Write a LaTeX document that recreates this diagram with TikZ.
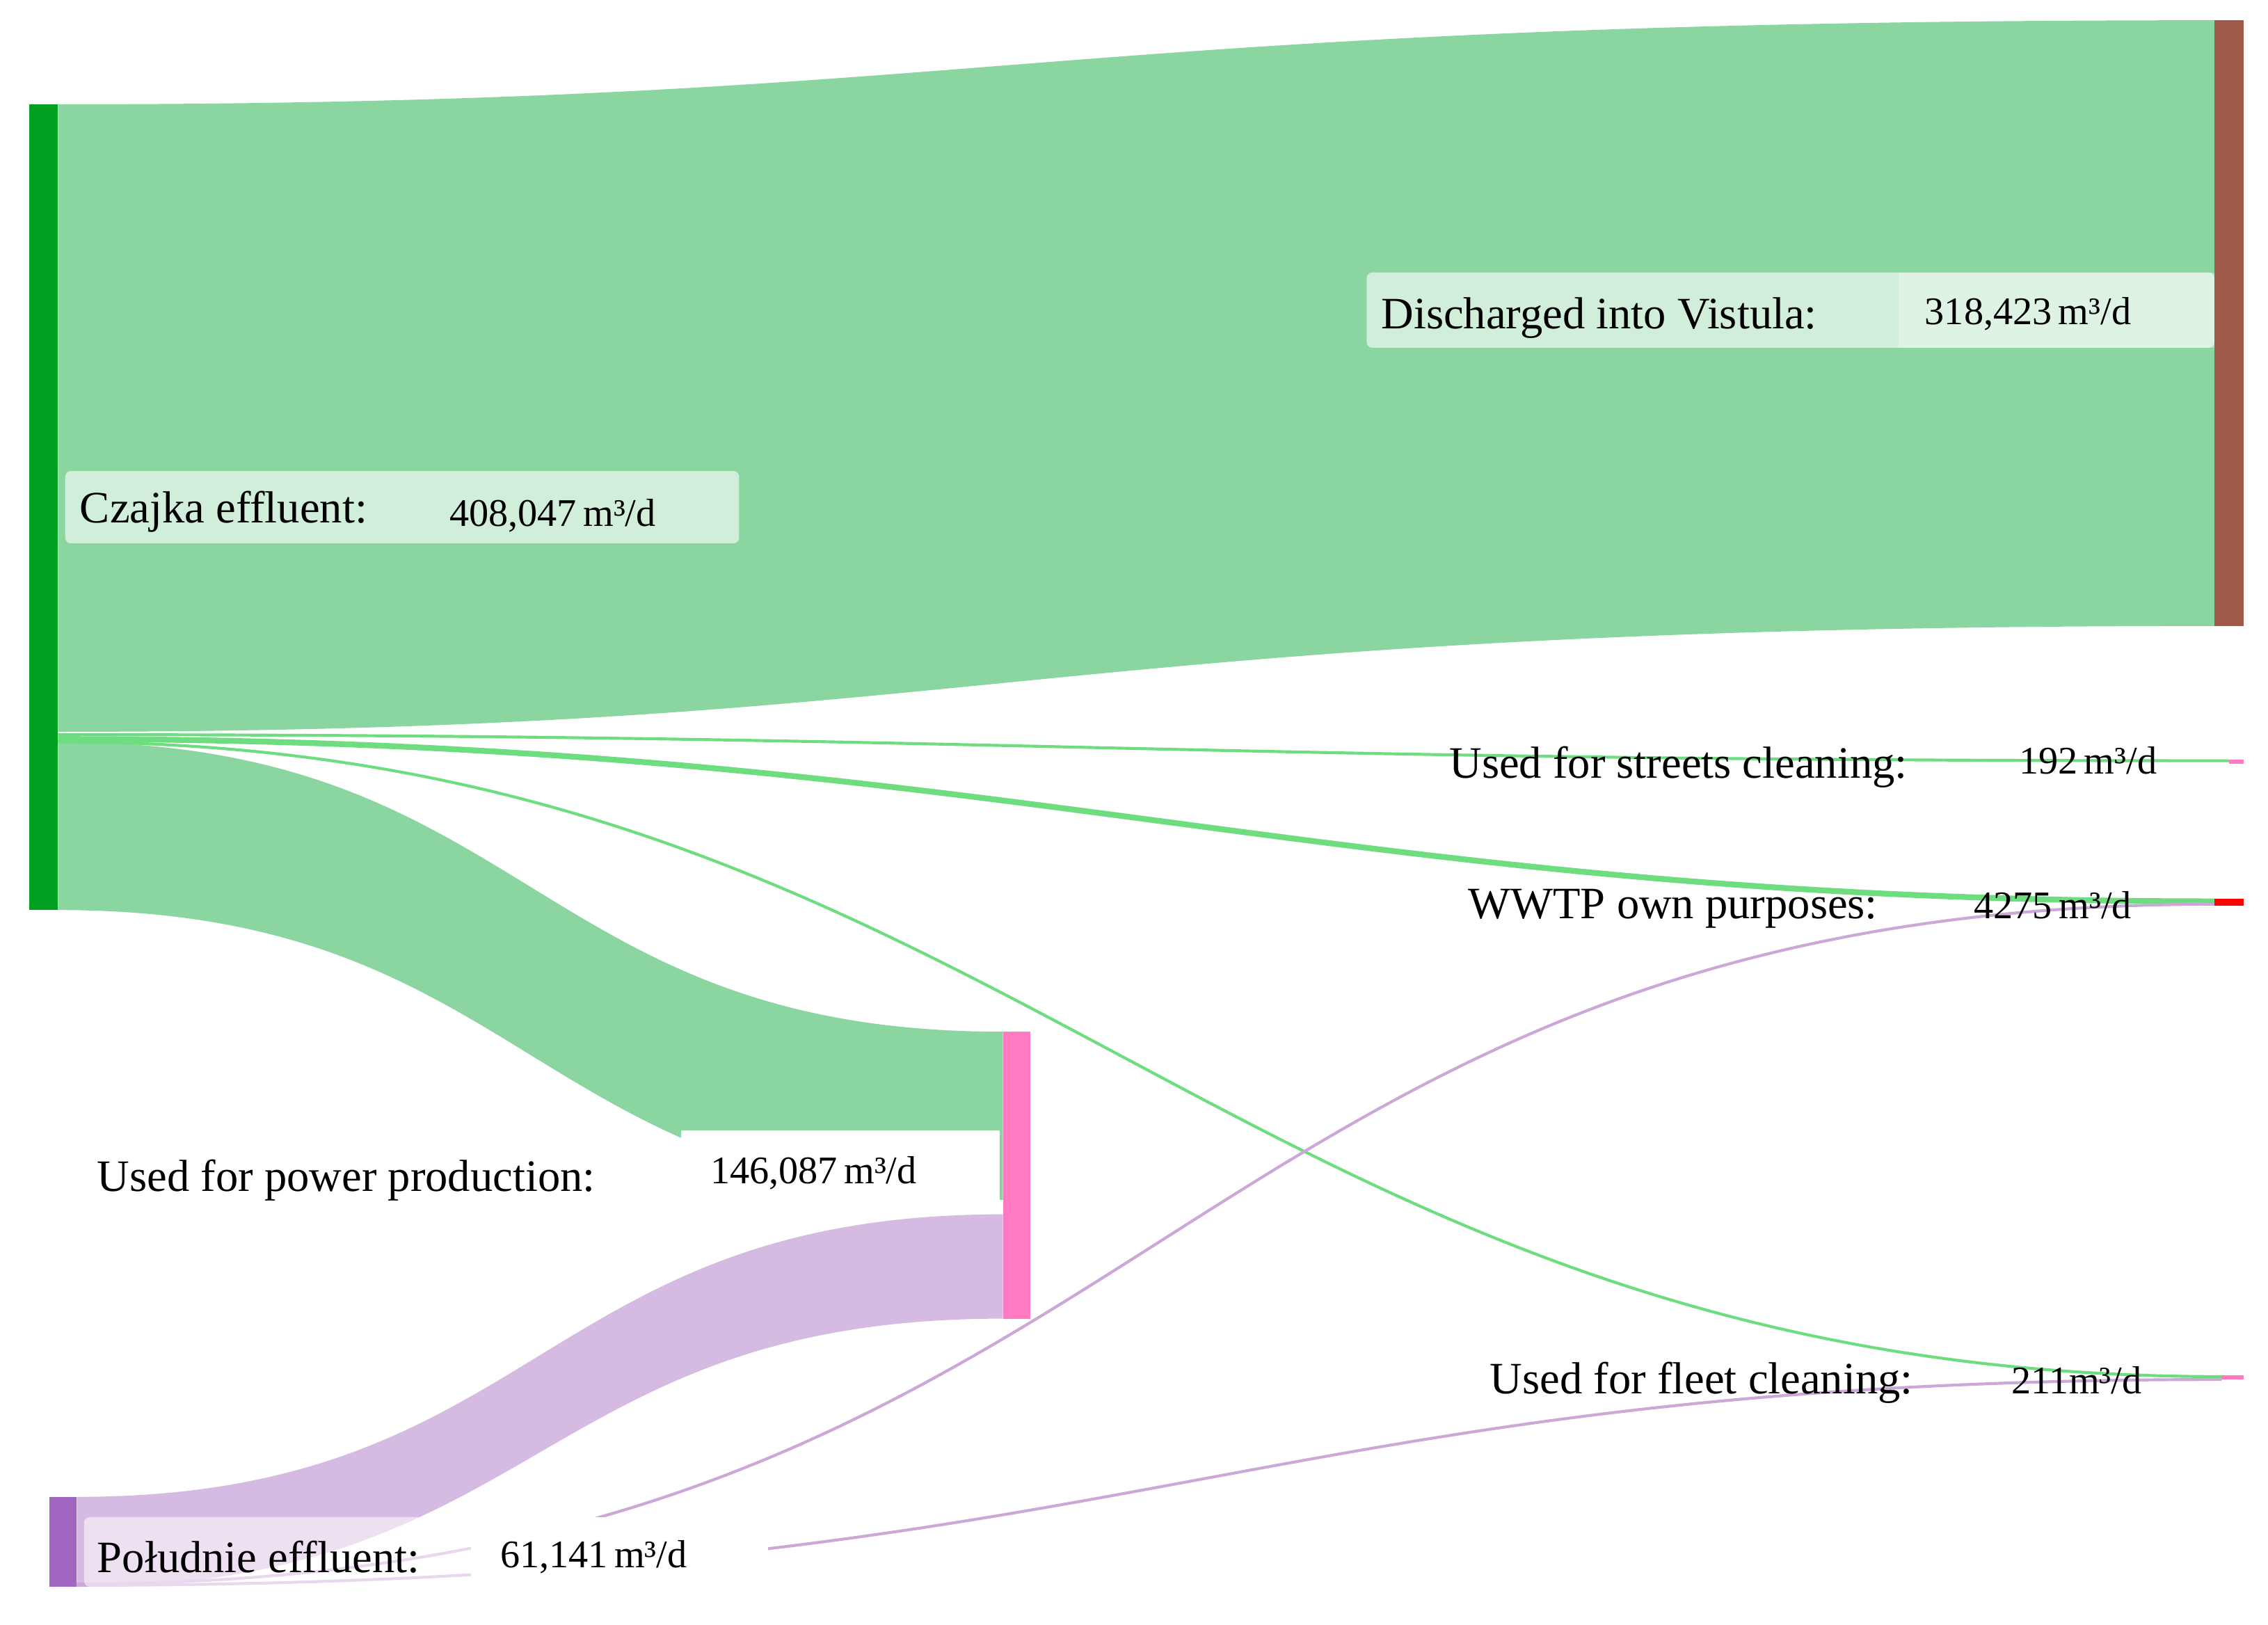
\documentclass[tikz,border=0pt]{standalone}
\usepackage{fontspec}
\setmainfont{Liberation Serif}
\definecolor{gband}{HTML}{8AD5A0}
\definecolor{pband}{HTML}{D5BBE2}
\definecolor{gnode}{HTML}{00A020}
\definecolor{bnode}{HTML}{A05A4A}
\definecolor{pknode}{HTML}{FF7AC0}
\definecolor{pnode}{HTML}{A066C0}
\begin{document}
\begin{tikzpicture}[x=1pt,y=-1pt,
  lab/.style={font=\fontsize{31}{31}\selectfont, anchor=base west, inner sep=0},
  val/.style={font=\fontsize{27}{27}\selectfont, anchor=base west, inner sep=0},
  gl/.style={draw=gband!80!green, line width=#1},
  pl/.style={draw=pband!90!violet, line width=#1}]
\useasboundingbox (0,0) rectangle (1565,1121);
\fill[white] (0,0) rectangle (1565,1121);
% nodes
\fill[gnode] (20,72) rectangle (40,628);
\fill[bnode] (1528,14) rectangle (1548,432);
\fill[pknode] (692,712) rectangle (711,910);
\fill[pnode] (34,1033) rectangle (53,1095);
\fill[pknode] (1538,524) rectangle (1548,527);
\fill[red] (1528,620) rectangle (1548,625);
\fill[pknode] (1533,949) rectangle (1548,952);
\coordinate (cz) at (40,505);
% main bands
\fill[gband] (40,72) .. controls (700,72) and (700,14) .. (1528,14) -- (1528,432)
  .. controls (700,432) and (700,505) .. (40,505) -- cycle;
\fill[gband] (40,512) .. controls (366,512) and (366,712) .. (692,712) -- (692,828)
  .. controls (366,828) and (366,628) .. (40,628) -- cycle;
\fill[pband] (53,1033) .. controls (372,1033) and (372,838) .. (692,838) -- (692,910)
  .. controls (372,910) and (372,1095) .. (53,1095) -- cycle;
% thin flows
\draw[gl=2pt] (40,507) .. controls (700,507) and (800,525) .. (1538,525);
\draw[gl=4pt] (40,510) .. controls (700,510) and (900,622) .. (1528,622);
\draw[gl=2pt] (40,512) .. controls (700,512) and (850,950) .. (1533,950);
\draw[pl=2pt] (53,1093) .. controls (800,1093) and (800,624) .. (1528,624);
\draw[pl=2pt] (53,1094) .. controls (800,1094) and (850,952) .. (1533,952);
% label boxes
\fill[white,opacity=0.6,rounded corners=4pt] (45,325) rectangle (510,375);
\fill[white,opacity=0.6,rounded corners=4pt] (943,188) rectangle (1528,240);
\fill[white,opacity=0.3] (1310,188) rectangle (1528,240);
\fill[white,opacity=0.55,rounded corners=4pt] (58,1047) rectangle (325,1095);
\fill[white] (325,1047) rectangle (530,1100);
\fill[white] (470,780) rectangle (690,835);
% labels
\node[lab] (tcz) at (55,361) {Czajka effluent:};
\node[val] (vcz) at (310,363) {408,047\,m³/d};
\node[lab] (tvi) at (953,227) {Discharged into Vistula:};
\node[val] (vvi) at (1328,224) {318,423\,m³/d};
\node[lab] (tst) at (1000,537) {Used for streets cleaning:};
\node[val] (vst) at (1393,534) {192\,m³/d};
\node[lab] (tww) at (1013,634) {WWTP own purposes:};
\node[val] (vww) at (1362,634) {4275\,m³/d};
\node[lab] (tpw) at (67,822) {Used for power production:};
\node[val] (vpw) at (490,817) {146,087\,m³/d};
\node[lab] (tfl) at (1028,962) {Used for fleet cleaning:};
\node[val] (vfl) at (1388,962) {211m³/d};
\node[lab] (tpo) at (67,1085) {Południe effluent:};
\node[val] (vpo) at (345,1082) {61,141\,m³/d};
\end{tikzpicture}
\end{document}
